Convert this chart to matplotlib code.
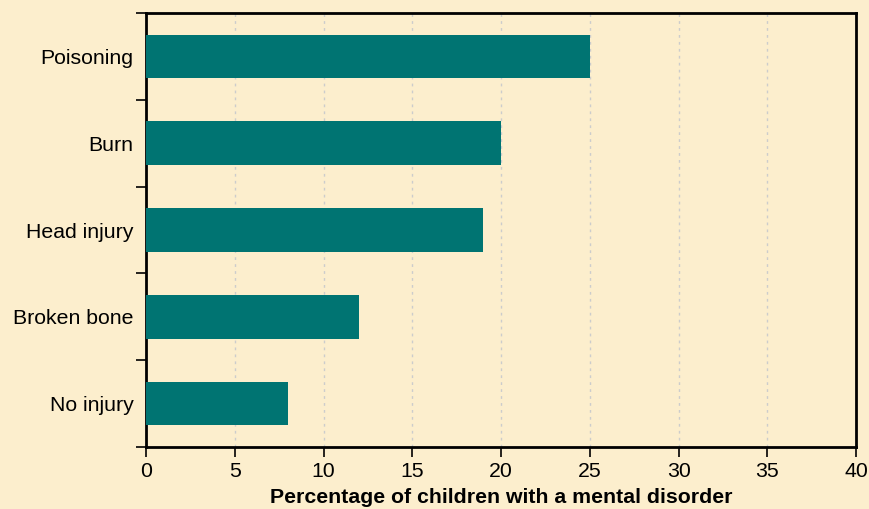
import matplotlib
matplotlib.use("Agg")
import matplotlib.pyplot as plt
import numpy as np

categories = ["No injury", "Broken bone", "Head injury", "Burn", "Poisoning"]
values = [8, 12, 19, 20, 25]
xticks = [0, 5, 10, 15, 20, 25, 30, 35, 40]

plt.rcParams['font.family'] = ['Liberation Sans', 'DejaVu Sans']
bg = "#FCEECD"
fs = 15.3
fig = plt.figure(figsize=(8.69, 5.09), dpi=100, facecolor=bg)
ax = fig.add_axes([146/869, 1-447/509, (856-146)/869, (447-13)/509])
ax.set_facecolor(bg)

y = np.arange(len(categories))
ax.barh(y, values, height=0.5, color="#007472", zorder=3)
ax.set_xlim(0, 40)
ax.set_ylim(-0.5, len(categories)-0.5)
ax.set_yticks(y)
ax.set_yticklabels(categories, fontsize=fs, va='center_baseline')
ax.set_yticks(np.arange(-0.5, len(categories), 1.0), minor=True)
ax.tick_params(axis='y', which='major', length=0, pad=9)
ax.tick_params(axis='y', which='minor', length=7, width=1.2)
ax.set_xticks(xticks)
ax.set_xticklabels([str(v) for v in xticks], fontsize=fs)
ax.tick_params(axis='x', length=7, width=1.2, pad=4)
ax.grid(axis='x', color='#cccccc', linestyle=(0, (2, 3)), linewidth=1, zorder=0)
for s in ax.spines.values():
    s.set_linewidth(2)
    s.set_color('black')
ax.set_xlabel("Percentage of children with a mental disorder", fontsize=fs, fontweight='bold', labelpad=5)
fig.savefig("out.png", dpi=100, facecolor=bg)
